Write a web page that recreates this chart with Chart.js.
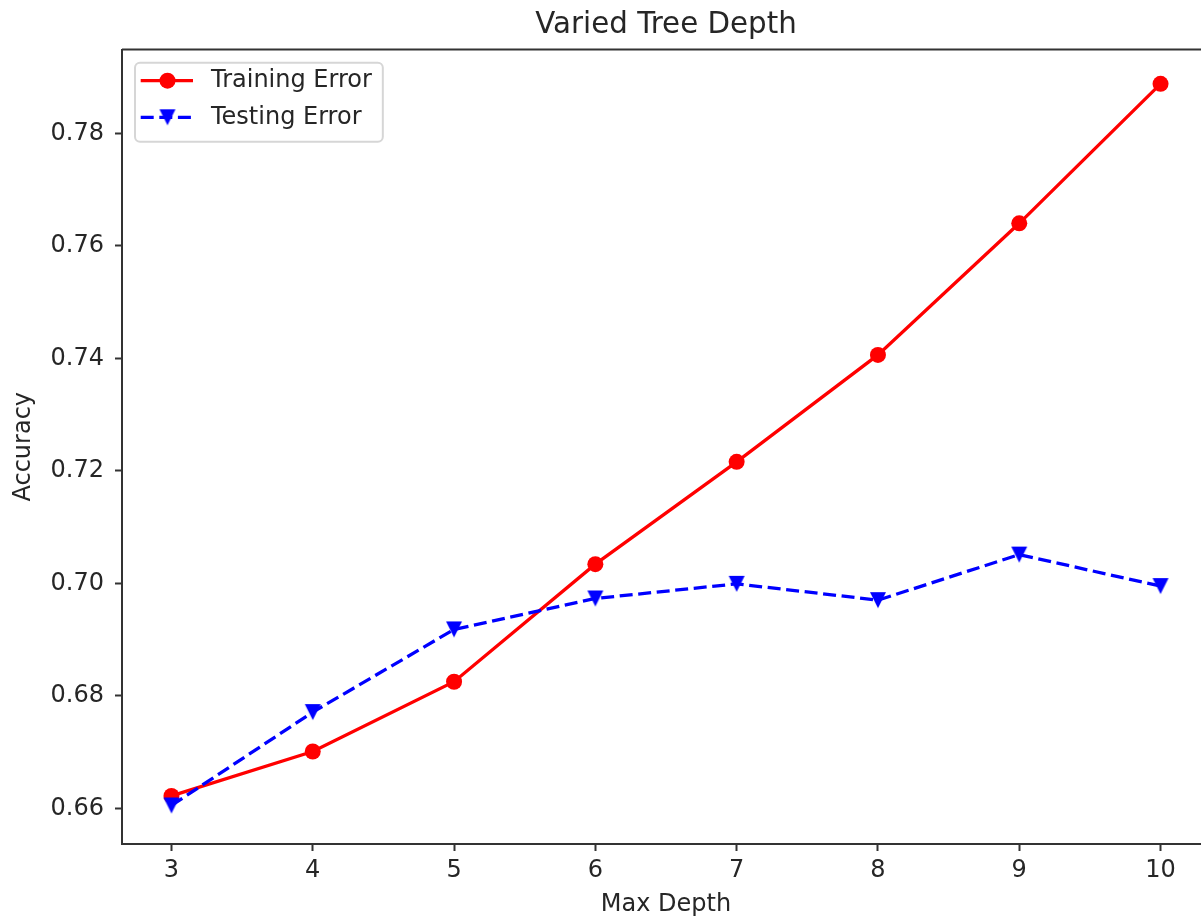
<!DOCTYPE html>
<html>
<head>
<meta charset="utf-8">
<title>Varied Tree Depth</title>
<script src="https://cdn.jsdelivr.net/npm/chart.js@4.4.1/dist/chart.umd.min.js"></script>
<style>
  html, body { margin: 0; padding: 0; background: #ffffff; overflow: hidden; }
  /* the plotting area runs a little past the right edge of the window */
  #wrap { position: absolute; left: 0; top: 0; width: 1210px; height: 919px; }
  #chart { display: block; }
</style>
</head>
<body>
<div id="wrap"><canvas id="chart" width="1210" height="919"></canvas></div>
<script>
// ---- data ----
const depths = [3, 4, 5, 6, 7, 8, 9, 10];
const trainingError = [0.6622, 0.6701, 0.6825, 0.7034, 0.7216, 0.7406, 0.7640, 0.7888];
const testingError  = [0.6605, 0.6771, 0.6918, 0.6973, 0.6999, 0.6970, 0.7051, 0.6995];
const seriesNames = ['Training Error', 'Testing Error'];
const yTickValues = [0.66, 0.68, 0.70, 0.72, 0.74, 0.76, 0.78];
const xTickValues = [3, 4, 5, 6, 7, 8, 9, 10];
const chartTitle = 'Varied Tree Depth';
const xAxisTitle = 'Max Depth';
const yAxisTitle = 'Accuracy';

// ---- styling ----
const FONT = "'DejaVu Sans', sans-serif";
const INK = '#262626';
const SPINE = '#333333';
const TICK_SIZE = 24;
const TITLE_SIZE = 29.3;

// downward triangle marker, centred on its bounding box
function triangleDown(size, color) {
  const c = document.createElement('canvas');
  const s = Math.ceil(size) + 4;
  c.width = s; c.height = s;
  const g = c.getContext('2d');
  const h = size / 2, m = s / 2;
  g.fillStyle = color;
  g.beginPath();
  g.moveTo(m - h, m - h);
  g.lineTo(m + h, m - h);
  g.lineTo(m, m + h);
  g.closePath();
  g.fill();
  return c;
}
const triMarker = triangleDown(16, '#0000ff');

const toPoints = ys => depths.map((d, i) => ({ x: d, y: ys[i] }));

// title, top/right spines and the legend box
const decorations = {
  id: 'decorations',
  afterDatasetsDraw(chart) {
    const { ctx, chartArea: a } = chart;
    ctx.save();
    ctx.strokeStyle = SPINE;
    ctx.lineWidth = 2;
    ctx.beginPath();
    ctx.moveTo(a.left, a.top);
    ctx.lineTo(a.right, a.top);
    ctx.lineTo(a.right, a.bottom);
    ctx.stroke();
    ctx.restore();
  },
  afterDraw(chart) {
    const { ctx, chartArea: a } = chart;
    ctx.save();
    // title centred over the plotting area
    ctx.fillStyle = INK;
    ctx.font = `${TITLE_SIZE}px ${FONT}`;
    ctx.textAlign = 'center';
    ctx.textBaseline = 'alphabetic';
    ctx.fillText(chartTitle, (a.left + a.right) / 2, 33.3);

    // legend
    ctx.font = `${TICK_SIZE}px ${FONT}`;
    const bx = a.left + 13, by = a.top + 13.2;
    const textX = a.left + 89;
    const tw = Math.max(...seriesNames.map(n => ctx.measureText(n).width));
    const bw = textX + tw + 11 - bx, bh = 79;
    ctx.beginPath();
    ctx.roundRect(bx, by, bw, bh, 5);
    ctx.fillStyle = 'rgba(255,255,255,0.85)';
    ctx.fill();
    ctx.strokeStyle = '#d6d6d6';
    ctx.lineWidth = 2;
    ctx.stroke();

    const rows = [a.top + 31.2, a.top + 67.8];
    const hx0 = a.left + 18.7, hx1 = a.left + 71, hxm = a.left + 45.5;
    chart.data.datasets.forEach((ds, i) => {
      const y = rows[i];
      ctx.save();
      ctx.strokeStyle = ds.borderColor;
      ctx.lineWidth = ds.borderWidth;
      ctx.setLineDash(ds.borderDash || []);
      ctx.beginPath();
      ctx.moveTo(hx0, y);
      ctx.lineTo(hx1, y);
      ctx.stroke();
      ctx.restore();
      if (ds.pointStyle === 'circle') {
        ctx.fillStyle = ds.pointBackgroundColor;
        ctx.beginPath();
        ctx.arc(hxm, y, ds.pointRadius, 0, Math.PI * 2);
        ctx.fill();
      } else {
        const img = ds.pointStyle;
        ctx.drawImage(img, hxm - img.width / 2, y - img.height / 2);
      }
      ctx.fillStyle = INK;
      ctx.textAlign = 'left';
      ctx.textBaseline = 'middle';
      ctx.fillText(ds.label, textX, y);
    });
    ctx.restore();
  }
};

new Chart(document.getElementById('chart'), {
  type: 'line',
  data: {
    datasets: [
      {
        label: seriesNames[0],
        data: toPoints(trainingError),
        borderColor: '#ff0000',
        backgroundColor: '#ff0000',
        borderWidth: 3.3,
        pointStyle: 'circle',
        pointRadius: 8,
        pointBackgroundColor: '#ff0000',
        pointBorderWidth: 0,
        tension: 0,
        fill: false,
        order: 1
      },
      {
        label: seriesNames[1],
        data: toPoints(testingError),
        borderColor: '#0000ff',
        backgroundColor: '#0000ff',
        borderWidth: 3.3,
        borderDash: [13, 5.6],
        pointStyle: triMarker,
        pointRadius: 8,
        pointBackgroundColor: '#0000ff',
        pointBorderWidth: 0,
        tension: 0,
        fill: false,
        order: 0
      }
    ]
  },
  options: {
    responsive: false,
    animation: false,
    events: [],
    layout: { autoPadding: false, padding: { top: 49.5, left: 0, right: 0, bottom: 0 } },
    plugins: {
      legend: { display: false },
      title: { display: false },
      tooltip: { enabled: false }
    },
    scales: {
      x: {
        type: 'linear',
        min: 2.65,
        max: 10.35,
        afterBuildTicks: s => { s.ticks = xTickValues.map(v => ({ value: v })); },
        afterFit: s => { s.height = 75; s.paddingLeft = 0; s.paddingRight = 0; },
        grid: { drawOnChartArea: false, drawTicks: true, tickLength: 7, tickWidth: 2, tickColor: SPINE },
        border: { display: true, color: SPINE, width: 2 },
        ticks: {
          color: INK,
          font: { family: FONT, size: TICK_SIZE },
          padding: 5,
          maxRotation: 0,
          autoSkip: false,
          callback: v => String(v)
        },
        title: {
          display: true,
          text: xAxisTitle,
          color: INK,
          font: { family: FONT, size: TICK_SIZE },
          padding: { top: 0, bottom: 0 }
        }
      },
      y: {
        type: 'linear',
        min: 0.65365,
        max: 0.7949,
        afterBuildTicks: s => { s.ticks = yTickValues.map(v => ({ value: v })); },
        afterFit: s => { s.width = 122; s.paddingTop = 0; s.paddingBottom = 0; },
        grid: { drawOnChartArea: false, drawTicks: true, tickLength: 7, tickWidth: 2, tickColor: SPINE },
        border: { display: true, color: SPINE, width: 2 },
        ticks: {
          color: INK,
          font: { family: FONT, size: TICK_SIZE },
          padding: 11,
          autoSkip: false,
          callback: v => v.toFixed(2)
        },
        title: {
          display: true,
          text: yAxisTitle,
          color: INK,
          font: { family: FONT, size: TICK_SIZE },
          padding: { top: 9, bottom: 0 }
        }
      }
    }
  },
  plugins: [decorations]
});
</script>
</body>
</html>
